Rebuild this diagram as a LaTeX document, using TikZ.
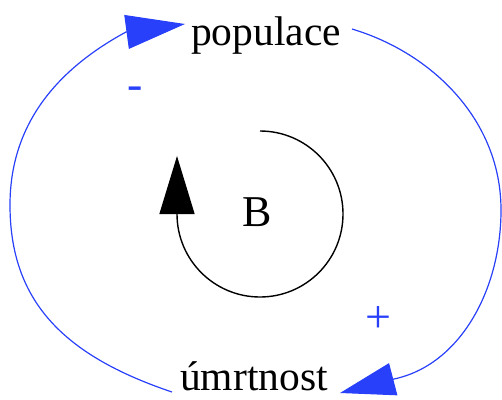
\documentclass[tikz,border=0pt]{standalone}
\usepackage{fontspec}
\setmainfont{Liberation Serif}
\usetikzlibrary{arrows.meta}
\definecolor{linkblue}{RGB}{40,64,250}
\tikzset{
  label/.style={inner sep=0pt, font=\fontsize{41.5}{50}\selectfont},
  sign/.style={inner sep=0pt, text=linkblue, font=\fontsize{46}{50}\selectfont},
  link/.style={draw=linkblue, line width=1.2pt},
  bigtip/.style={-{Triangle[length=#1,width=33pt,fill=linkblue]}},
}
\begin{document}
\begin{tikzpicture}[x=1pt,y=-1pt]
\useasboundingbox (0,0) rectangle (502,399);
\node[label, anchor=base] (pop) at (266,45) {populace};
\node[label, anchor=base] (mort) at (254,390) {úmrtnost};
\node[sign] (minus) at (135,93) {-};
\node[sign] (plus) at (378,319) {+};
\node[inner sep=0pt, font=\fontsize{44}{50}\selectfont] (B) at (257,212) {B};
% populace -> úmrtnost (right, +)
\draw[link, bigtip=55pt] ([xshift=86pt,yshift=16pt]pop.base)
  .. controls (432,53) and (501,120) .. (501,210)
  .. controls (501,290) and (460,365) .. (394,379)
  -- ([xshift=86pt,yshift=-3pt]mort.base);
% úmrtnost -> populace (left, -)
\draw[link, -{Triangle[length=59pt,width=34pt,fill=linkblue]}] ([xshift=-82pt,yshift=-2pt]mort.base)
  .. controls (62,355) and (10,300) .. (10,205)
  .. controls (10,125) and (56,70) .. (126,32)
  -- ([xshift=-81pt,yshift=21pt]pop.base);
% loop symbol
\draw[line width=1.4pt, -{Triangle[length=58pt,width=35pt]}] (260,131)
  arc[start angle=-90, end angle=180, radius=83] -- ++(0,-58);
\end{tikzpicture}
\end{document}
